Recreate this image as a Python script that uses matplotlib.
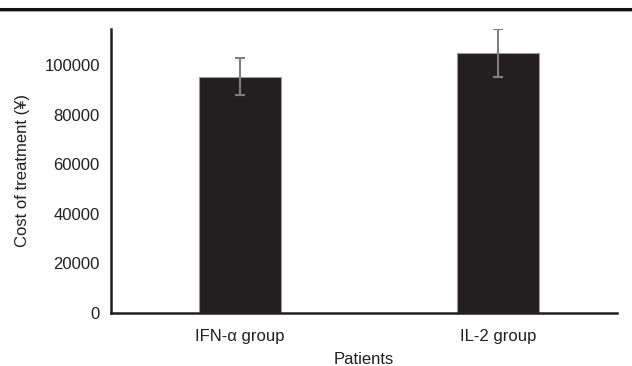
import matplotlib
matplotlib.use("Agg")
import matplotlib.pyplot as plt
from matplotlib.lines import Line2D

categories = ["IFN-\u03b1 group", "IL-2 group"]
means = [95200, 104800]
errors = [7500, 9800]
yticks = [0, 20000, 40000, 60000, 80000, 100000]

plt.rcParams['font.family'] = ['Liberation Sans', 'DejaVu Sans']

fig = plt.figure(figsize=(6.32, 3.66), dpi=100)
ax = fig.add_axes([0.1756, 0.1448, 0.8004, 0.776])
x = list(range(len(categories)))
ax.bar(x, means, width=0.318, color="#231f20", edgecolor="#999999", linewidth=0.8,
       yerr=errors, error_kw=dict(ecolor="#7f7f7f", elinewidth=1.5, capsize=3.5, capthick=1.5))
ax.set_xlim(-0.5, 1.46)
ax.set_ylim(0, 114500)
ax.set_yticks(yticks)
ax.set_yticklabels([str(v) for v in yticks])
ax.set_xticks(x)
ax.set_xticklabels(categories)
ax.tick_params(axis='both', length=0, labelsize=12, colors="#231f20")
ax.tick_params(axis='y', pad=8)
ax.tick_params(axis='x', pad=11.5)
for s in ["top", "right"]:
    ax.spines[s].set_visible(False)
for s in ["left", "bottom"]:
    ax.spines[s].set_linewidth(1.8)
    ax.spines[s].set_color("#231f20")
ax.set_ylabel("Cost of treatment (\u00a5)", fontsize=12, color="#231f20", labelpad=10)
ax.set_xlabel("Patients", fontsize=12, color="#231f20", labelpad=5.5)

fig.add_artist(Line2D([0, 1], [1 - 8.5/366, 1 - 8.5/366], transform=fig.transFigure,
                      color="#111111", linewidth=2.2))
fig.add_artist(Line2D([0, 1], [1 - 10.5/366, 1 - 10.5/366], transform=fig.transFigure,
                      color="#999999", linewidth=0.6))

fig.savefig("out.png", dpi=100)
